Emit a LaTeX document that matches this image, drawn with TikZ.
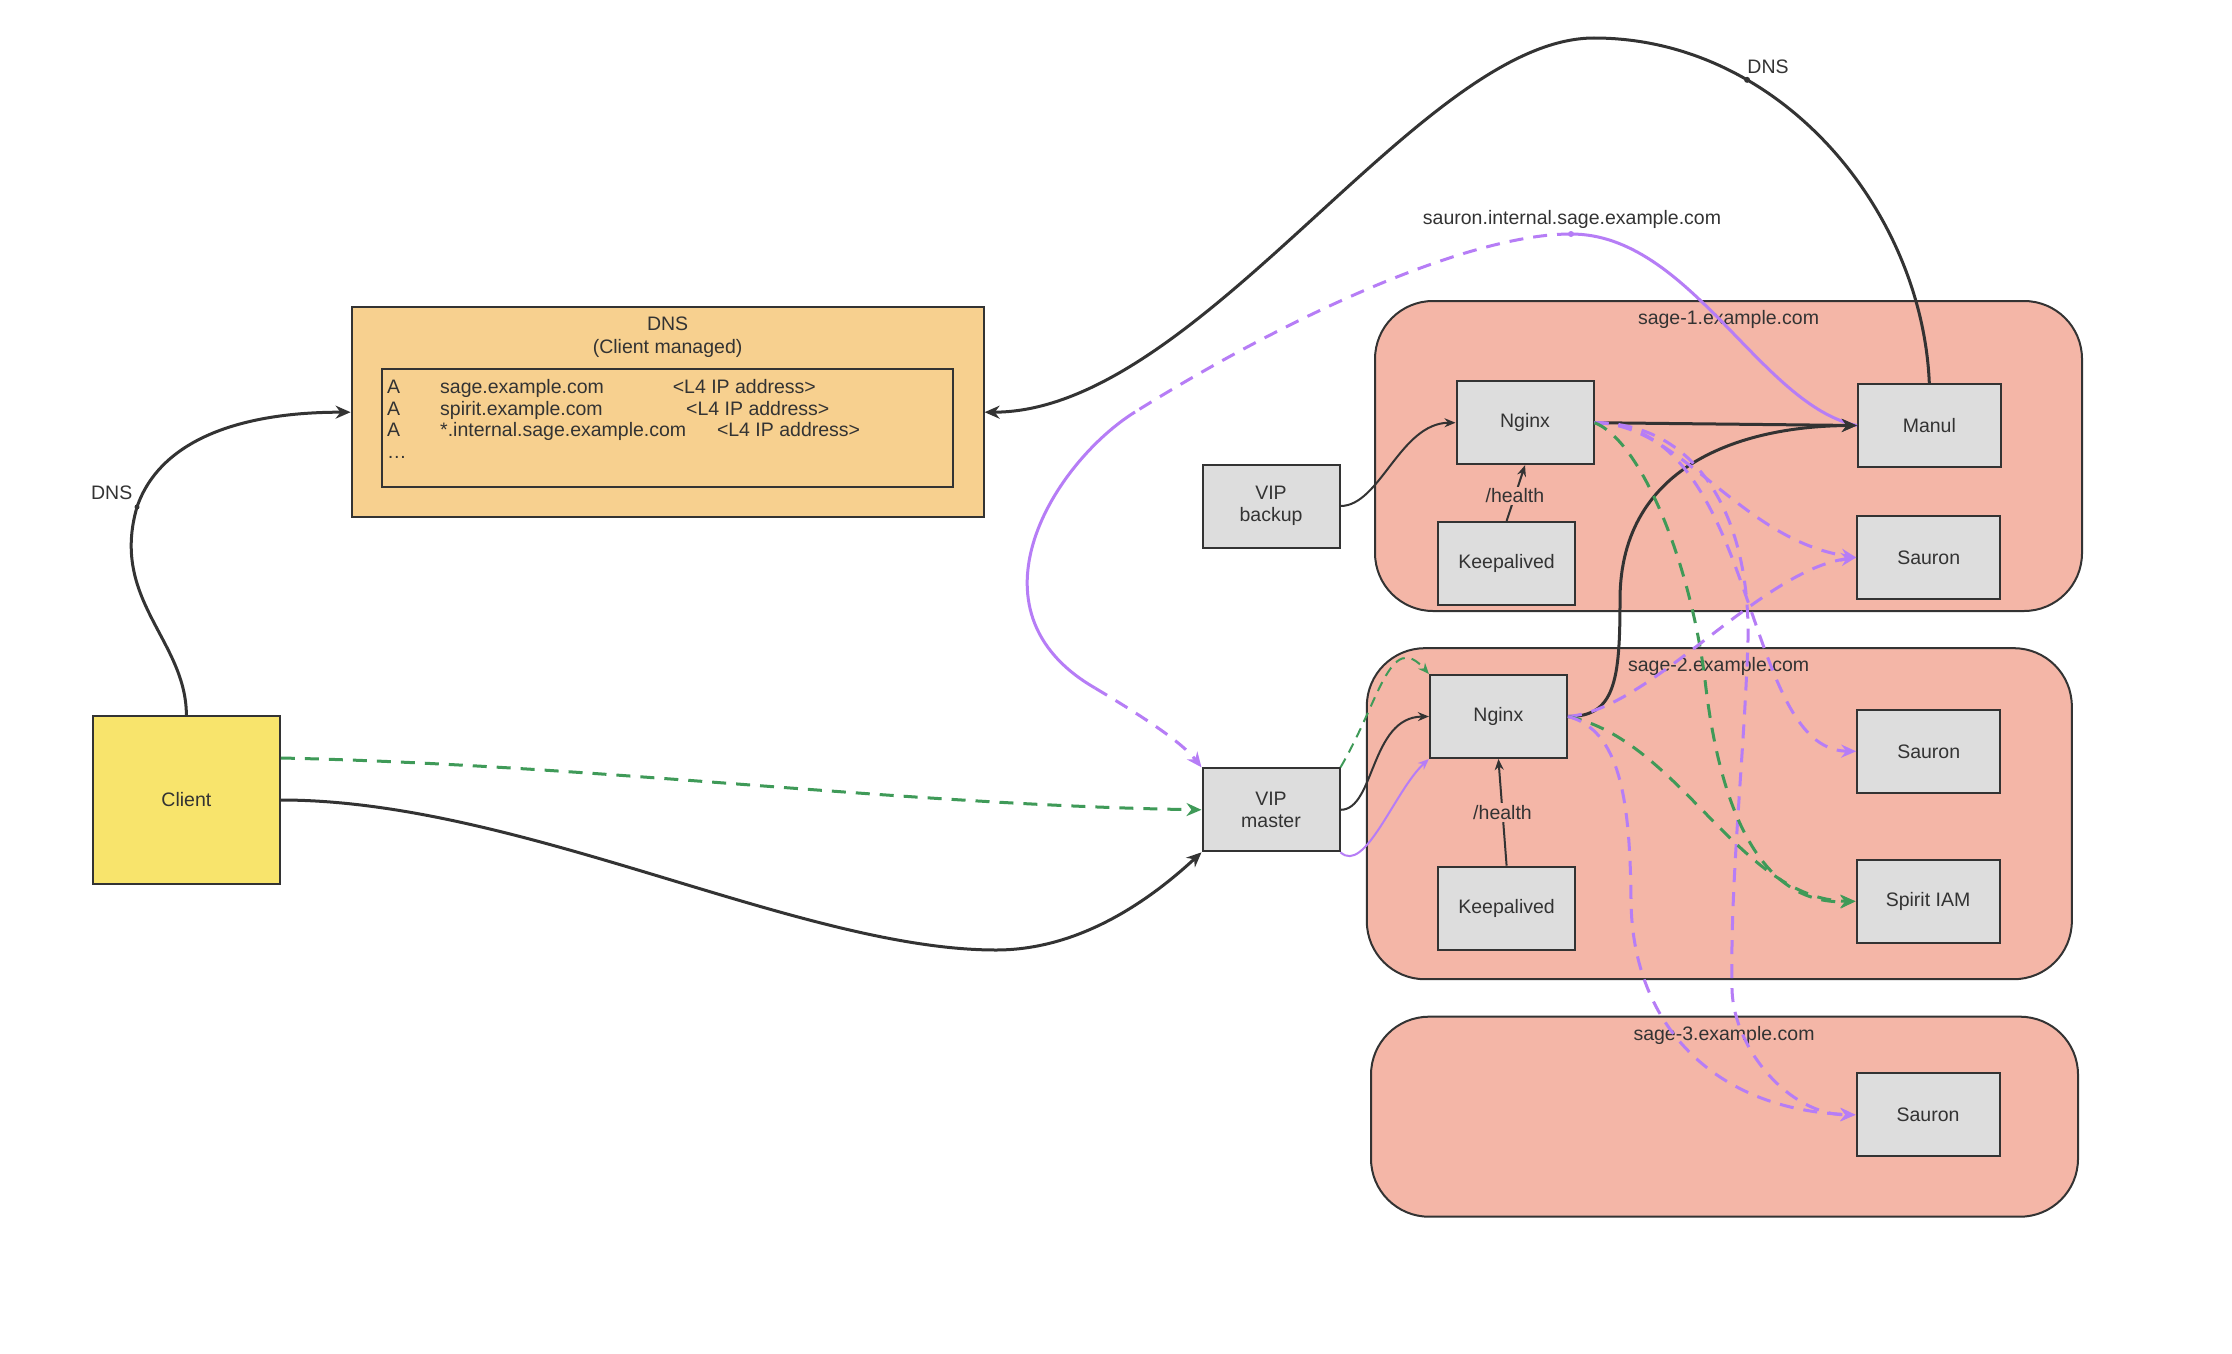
\documentclass[tikz,border=0pt]{standalone}
\usepackage{fontspec}
\setmainfont{Liberation Sans}
\usetikzlibrary{arrows.meta}
\definecolor{linec}{HTML}{333333}
\definecolor{nodefill}{HTML}{DDDDDD}
\definecolor{regionfill}{HTML}{F4B6A7}
\definecolor{dnsfill}{HTML}{F7D08F}
\definecolor{clientfill}{HTML}{F8E46C}
\definecolor{purp}{HTML}{B67DF6}
\definecolor{grn}{HTML}{3F9A58}
\begin{document}
\begin{tikzpicture}[x=1pt,y=-1pt,
  font=\fontsize{19.5}{22.5}\selectfont, text=linec,
  box/.style={draw=linec, fill=nodefill, line width=2pt, minimum width=137pt, minimum height=83pt, inner sep=0pt, align=center},
  wbox/.style={box, minimum width=143pt},
  region/.style={draw=linec, fill=regionfill, line width=2pt, rounded corners=58pt, inner sep=0pt},
  conn/.style={draw=linec, line width=3pt, -{Stealth[length=15pt,width=13pt]}},
  tarrow/.style={draw=linec, line width=2pt, -{Stealth[length=11pt,width=9pt]}},
  pdash/.style={draw=purp, line width=3pt, dash pattern=on 14pt off 10pt, -{Stealth[length=15pt,width=13pt]}},
  pdashn/.style={draw=purp, line width=3pt, dash pattern=on 14pt off 10pt},
  psolid/.style={draw=purp, line width=3pt},
  pthin/.style={draw=purp, line width=2pt, -{Stealth[length=11pt,width=9pt]}},
  gdash/.style={draw=grn, line width=3pt, dash pattern=on 14pt off 10pt, -{Stealth[length=15pt,width=13pt]}},
  gthin/.style={draw=grn, line width=2pt, dash pattern=on 10pt off 7pt, -{Stealth[length=11pt,width=9pt]}},
  rec/.style={anchor=base west, inner sep=0pt},
  dotm/.style={circle, inner sep=0pt, minimum size=6pt}
]
\fill[white] (0,0) rectangle (2232,1354);
\useasboundingbox (0,0) rectangle (2232,1354);

% regions
\node[region, minimum width=707pt, minimum height=310pt] (sage1) at (1728.5,456) {};
\node[region, minimum width=705pt, minimum height=331pt] (sage2) at (1719.3,813.7) {};
\node[region, minimum width=707pt, minimum height=200pt] (sage3) at (1724.5,1116.7) {};
\node (sage1lbl) at (1728.5,319) {sage-1.example.com};
\node (sage2lbl) at (1718.6,666) {sage-2.example.com};
\node (sage3lbl) at (1724,1035) {sage-3.example.com};

% DNS box
\node[box, fill=dnsfill, minimum width=632pt, minimum height=209.5pt] (dns) at (667.6,412.2) {};
\node[align=center] (dnstitle) at (667.6,337) {DNS\\(Client managed)};
\node[draw=linec, line width=2pt, minimum width=571pt, minimum height=118pt, inner sep=0pt] (records) at (667.5,428) {};
\node[rec] (ra1) at (387,393.5) {A};
\node[rec] (rn1) at (440,393.5) {sage.example.com};
\node[rec] (rp1) at (672.6,393.5) {<L4 IP address>};
\node[rec] (ra2) at (387,415) {A};
\node[rec] (rn2) at (440,415) {spirit.example.com};
\node[rec] (rp2) at (686,415) {<L4 IP address>};
\node[rec] (ra3) at (387,436.5) {A};
\node[rec] (rn3) at (440,436.5) {*.internal.sage.example.com};
\node[rec] (rp3) at (716.8,436.5) {<L4 IP address>};
\node[rec] (rdots) at (387,458) {…};

% nodes
\node[box, fill=clientfill, minimum width=187pt, minimum height=168pt] (client) at (186.4,800) {Client};
\node[box] (nginx1) at (1525,422.7) {Nginx};
\node[box] (keep1) at (1506.6,563.4) {Keepalived};
\node[box] (vipb) at (1271,506) {VIP\\backup};
\node[wbox] (manul) at (1929.3,425.5) {Manul};
\node[wbox] (sauron1) at (1928.7,557.5) {Sauron};
\node[box] (nginx2) at (1498.4,716.5) {Nginx};
\node[box] (vipm) at (1271,809.8) {VIP\\master};
\node[box] (keep2) at (1506.6,908.2) {Keepalived};
\node[wbox] (sauron2) at (1928.7,751.3) {Sauron};
\node[wbox] (spirit) at (1928,901.3) {Spirit IAM};
\node[wbox] (sauron3) at (1928,1114.8) {Sauron};

% Client -> DNS
\coordinate (cdns) at (137,507);
\draw[conn] (client.north) .. controls (186,640) and (110,600) .. (cdns) .. controls (160,440) and (240,412) .. (dns.west);
\fill[linec] (cdns) circle (2.5pt);
\node (dnslbl1) at (111.7,492.7) {DNS};

% Manul -> DNS
\coordinate (ctop) at (1594,38);
\draw[conn] (manul.north) .. controls (1922,210) and (1780,38) .. node[pos=0.7, dotm, fill=linec] (dnsdot2) {} (ctop) .. controls (1420,38) and (1200,412) .. (dns.east);
\node (dnslbl2) at (1768,66.7) {DNS};

% purple sauron.internal connector
\coordinate (plbl) at (1571,234);
\coordinate (pm) at (1135,412);
\coordinate (pn) at (1095,688);
\draw[psolid] (manul.west) .. controls (1760,405) and (1690,234) .. (plbl);
\draw[pdashn] (plbl) .. controls (1470,234) and (1290,315) .. (pm);
\draw[psolid] (pm) .. controls (1055,462) and (960,610) .. (pn);
\draw[pdash] (pn) .. controls (1135,712) and (1180,740) .. (vipm.north west);
\fill[purp] (plbl) circle (3pt);
\node (plabel) at (1572,219) {sauron.internal.sage.example.com};

% Client -> VIP master
\draw[gdash] ([yshift=42pt]client.east) .. controls (600,765) and (900,805) .. (vipm.west);
\coordinate (cb) at (996,950);
\draw[conn] (client.east) .. controls (520,800) and (800,950) .. (cb) .. controls (1080,950) and (1150,900) .. (vipm.south west);

% VIPs -> Nginx
\draw[tarrow] (vipb.east) .. controls (1380,506) and (1400,423) .. (nginx1.west);
\draw[tarrow] (vipm.east) .. controls (1375,810) and (1370,717) .. (nginx2.west);
\draw[gthin] (vipm.north east) .. controls (1380,700) and (1390,630) .. (nginx2.north west);
\draw[pthin] (vipm.south east) .. controls (1365,875) and (1395,790) .. (nginx2.south west);

% health checks
\draw[tarrow] (keep1.north) -- node[pos=0.45, fill=regionfill, inner sep=2pt] (h1) {/health} (nginx1.south);
\draw[tarrow] (keep2.north) -- node[pos=0.5, fill=regionfill, inner sep=2pt] (h2) {/health} (nginx2.south);

% Nginx -> Manul
\draw[conn] (nginx1.east) -- (manul.west);
\coordinate (n2m) at (1620,600);
\draw[conn] (nginx2.east) .. controls (1615,717) and (1620,680) .. (n2m) .. controls (1620,460) and (1750,426) .. (manul.west);

% Nginx1 dashed
\draw[pdash] (nginx1.east) .. controls (1680,423) and (1740,540) .. (sauron1.west);
\draw[pdash] (nginx1.east) .. controls (1760,423) and (1740,750) .. (sauron2.west);
\coordinate (q1) at (1748,640);
\coordinate (q2) at (1732,990);
\draw[pdash] (nginx1.east) .. controls (1700,423) and (1750,520) .. (q1) .. controls (1744,760) and (1730,880) .. (q2) .. controls (1734,1050) and (1790,1115) .. (sauron3.west);
\coordinate (g1) at (1705,680);
\draw[gdash] (nginx1.east) .. controls (1640,440) and (1690,560) .. (g1) .. controls (1722,830) and (1770,905) .. (spirit.west);

% Nginx2 dashed
\draw[pdash] (nginx2.east) .. controls (1650,710) and (1760,570) .. (sauron1.west);
\draw[gdash] (nginx2.east) .. controls (1680,740) and (1740,900) .. (spirit.west);
\coordinate (r1) at (1631,900);
\draw[pdash] (nginx2.east) .. controls (1620,730) and (1630,800) .. (r1) .. controls (1632,1030) and (1720,1110) .. (sauron3.west);
\end{tikzpicture}
\end{document}
